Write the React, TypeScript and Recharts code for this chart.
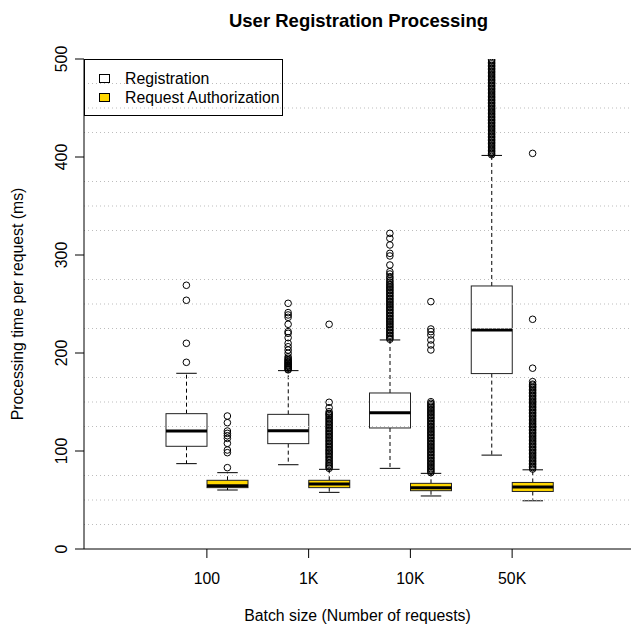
import { Bar, ComposedChart, Label, Legend, ReferenceLine, Scatter, XAxis, YAxis } from 'recharts'

const FONT = '"Liberation Sans", Arial, Helvetica, sans-serif'
const TEXT_SIZE = 15.8

const batches = ['100', '1K', '10K', '50K']

// Registration: box statistics per batch size (ms)
const regLow = [87.1, 86, 82.3, 95.8]
const regQ1 = [104.8, 107.5, 123.5, 179]
const regMedian = [120.4, 120.7, 139.1, 223.5]
const regQ3 = [138.1, 137.4, 159.2, 268.4]
const regHigh = [179.3, 182, 213.3, 401.6]

// Request Authorization: box statistics per batch size (ms)
const authLow = [60.2, 57.8, 54.1, 49.2]
const authQ1 = [62.6, 62.6, 59.5, 58.7]
const authMedian = [64.6, 66.3, 62.6, 63.2]
const authQ3 = [70.1, 70.1, 67, 67.9]
const authHigh = [77.9, 81.3, 77.2, 80.8]

const regOutliers = [
  [190.5, 209.9, 253.8, 269.1],
  [
    182.8, 183.5, 184.6, 185.2, 186.3, 187.1, 187.8, 188.9, 189.5, 190.6, 191.3, 192.4, 193.2,
    194.6, 196.2, 199.7, 203, 206.4, 209.9, 215.6, 220.1, 221.8, 229.3, 236.4, 238.8, 241.2, 250.7,
  ],
  [
    214, 215.3, 217, 218.2, 219.9, 221.1, 222.8, 224, 225.7, 226.9, 228.6, 229.8, 231.5, 232.7,
    234.4, 235.6, 237.3, 238.5, 240.2, 241.4, 243.1, 244.3, 246, 247.2, 248.9, 250.1, 251.8, 253,
    254.7, 255.9, 257.6, 258.8, 260.5, 261.7, 263.4, 264.6, 266.3, 267.5, 269.2, 270.5, 272.4,
    274, 276.1, 277.9, 280.6, 283, 289.8, 299, 301.7, 310.2, 317, 322.1,
  ],
  [
    402.3, 403.6, 405.2, 406.5, 408.1, 409.4, 411, 412.3, 413.9, 415.2, 416.8, 418.1, 419.7, 421,
    422.6, 423.9, 425.5, 426.8, 428.4, 429.7, 431.3, 432.6, 434.2, 435.5, 437.1, 438.4, 440, 441.3,
    442.9, 444.2, 445.8, 447.1, 448.7, 450, 451.6, 452.9, 454.5, 455.8, 457.4, 458.7, 460.3, 461.6,
    463.2, 464.5, 466.1, 467.4, 469, 470.3, 471.9, 473.2, 474.8, 476.1, 477.7, 479, 480.6, 481.9,
    483.5, 484.8, 486.4, 487.7, 489.3, 490.6, 492.2, 493.5, 495.1, 496.4, 498, 499.3,
  ],
]

const authOutliers = [
  [83, 98.3, 101, 107.8, 112.9, 115.6, 118, 120.4, 128.9, 135.7],
  [
    82.3, 83.7, 85.1, 86.6, 88, 89.8, 91.4, 93.1, 94.5, 96.2, 97.6, 99, 100.5, 101.8, 103.4, 104.9,
    106.3, 107.8, 109.4, 110.7, 112.3, 113.8, 115.2, 116.7, 118.2, 119.6, 121.1, 122.7, 124, 125.6,
    127.1, 128.5, 130, 131.6, 132.9, 134.5, 136, 137.4, 138.4, 140.1, 144.2, 149.7, 229.3,
  ],
  [
    77.9, 79.3, 80.7, 82, 83.6, 84.9, 86.5, 87.8, 89.4, 90.7, 92.3, 93.6, 95.2, 96.5, 98.1, 99.4,
    101, 102.3, 103.9, 105.2, 106.8, 108.1, 109.7, 111, 112.6, 113.9, 115.5, 116.8, 118.4, 119.7,
    121.3, 122.6, 124.2, 125.5, 127.1, 128.4, 130, 131.3, 132.9, 134.2, 135.8, 137.1, 138.7, 140,
    141.6, 142.9, 144.5, 145.8, 147.3, 148.7, 150.3, 203.1, 208.2, 213.3, 218.4, 221.8, 224.5,
    252.4,
  ],
  [
    81.6, 83.1, 84.4, 86, 87.3, 88.9, 90.2, 91.8, 93.1, 94.7, 96, 97.6, 98.9, 100.5, 101.8, 103.4,
    104.7, 106.3, 107.6, 109.2, 110.5, 112.1, 113.4, 115, 116.3, 117.9, 119.2, 120.8, 122.1, 123.7,
    125, 126.6, 127.9, 129.5, 130.8, 132.4, 133.7, 135.3, 136.6, 138.2, 139.5, 141.1, 142.4, 144,
    145.3, 146.9, 148.2, 149.8, 151.1, 152.7, 154, 155.6, 156.9, 158.5, 159.8, 161.4, 162.7,
    164.3, 165.6, 167.2, 168.2, 170.8, 184.5, 234.4, 403.7,
  ],
]

const yTicks = [0, 100, 200, 300, 400, 500]
const gridValues = [25, 50, 75, 125, 150, 175, 225, 250, 275, 325, 350, 375, 425, 450, 475]

const legendItems = [
  { label: 'Registration', fill: '#ffffff' },
  { label: 'Request Authorization', fill: '#ffd700' },
]

const chartData = batches.map((batch, i) => ({
  batch,
  regBox: [regQ1[i], regQ3[i]],
  regLow: regLow[i],
  regMedian: regMedian[i],
  regHigh: regHigh[i],
  authBox: [authQ1[i], authQ3[i]],
  authLow: authLow[i],
  authMedian: authMedian[i],
  authHigh: authHigh[i],
}))

const toPoints = (lists: number[][]) =>
  batches.flatMap((batch, i) => lists[i].map((value) => ({ batch, value })))

const regPoints = toPoints(regOutliers)
const authPoints = toPoints(authOutliers)

// the bar covers q1..q3, the rest of the box is placed on the same linear scale
const makeBoxShape = (key: 'reg' | 'auth', fill: string) => (props: any) => {
  const { x, y, width, height, payload } = props
  const box = payload?.[`${key}Box`]
  if (!box) return <g />
  const [q1, q3] = box
  const top = Math.min(y, y + height)
  const bottom = Math.max(y, y + height)
  const toPx = (v: number) => bottom - ((v - q1) / (q3 - q1)) * (bottom - top)
  const cx = x + width / 2
  const cap = width / 4
  const hi = toPx(payload[`${key}High`])
  const lo = toPx(payload[`${key}Low`])
  const med = toPx(payload[`${key}Median`])

  return (
    <g>
      <line x1={cx} x2={cx} y1={top} y2={hi} stroke="#000" strokeDasharray="4 3" />
      <line x1={cx} x2={cx} y1={bottom} y2={lo} stroke="#000" strokeDasharray="4 3" />
      <line x1={cx - cap} x2={cx + cap} y1={hi} y2={hi} stroke="#000" />
      <line x1={cx - cap} x2={cx + cap} y1={lo} y2={lo} stroke="#000" />
      <rect x={x} y={top} width={width} height={bottom - top} fill={fill} stroke="#222" />
      <line x1={x} x2={x + width} y1={med} y2={med} stroke="#000" strokeWidth={3} />
    </g>
  )
}

const OutlierDot = (props: any) => (
  <circle cx={props.cx} cy={props.cy} r={3.3} fill="none" stroke="#000" strokeWidth={1} />
)

const XTick = ({ x, y, payload }: any) => (
  <text x={x} y={y + 24} textAnchor="middle" fontFamily={FONT} fontSize={TEXT_SIZE} fill="#000">
    {payload.value}
  </text>
)

const YTick = ({ x, y, payload }: any) => (
  <text
    x={x - 6}
    y={y}
    transform={`rotate(-90, ${x - 6}, ${y})`}
    textAnchor="middle"
    fontFamily={FONT}
    fontSize={TEXT_SIZE}
    fill="#000"
  >
    {payload.value}
  </text>
)

const renderLegend = () => (
  <div
    style={{
      position: 'relative',
      width: 199,
      height: 57,
      border: '1px solid #000',
      boxSizing: 'border-box',
      fontFamily: FONT,
      fontSize: TEXT_SIZE,
      color: '#000',
    }}
  >
    {legendItems.map((item, i) => (
      <div
        key={item.label}
        style={{
          position: 'absolute',
          left: 14,
          top: 9 + i * 19,
          height: 19,
          display: 'flex',
          alignItems: 'center',
          whiteSpace: 'nowrap',
        }}
      >
        <span
          style={{
            width: 11,
            height: 9,
            border: '1px solid #000',
            background: item.fill,
            boxSizing: 'border-box',
          }}
        />
        <span style={{ marginLeft: 15, lineHeight: '19px' }}>{item.label}</span>
      </div>
    ))}
  </div>
)

export default function App() {
  return (
    <div style={{ width: 631, height: 629, fontFamily: FONT, background: '#fff' }}>
      <style>{'body { margin: 0; }'}</style>
      <ComposedChart
        width={631}
        height={629}
        data={chartData}
        margin={{ top: 59, right: 0, bottom: 0, left: 0 }}
        barGap={0}
      >
        <XAxis
          xAxisId="cat"
          dataKey="batch"
          type="category"
          allowDuplicatedCategory={false}
          padding={{ left: 72, right: 68 }}
          height={80}
          tickSize={9}
          tickLine={{ stroke: '#000' }}
          axisLine={{ stroke: '#000' }}
          tick={<XTick />}
          interval={0}
        >
          <Label
            content={({ viewBox }: any) => (
              <text
                x={viewBox.x + viewBox.width / 2}
                y={viewBox.y + 71.5}
                textAnchor="middle"
                fontFamily={FONT}
                fontSize={TEXT_SIZE}
                fill="#000"
              >
                Batch size (Number of requests)
              </text>
            )}
          />
        </XAxis>
        <XAxis
          xAxisId="reg"
          dataKey="batch"
          type="category"
          allowDuplicatedCategory={false}
          padding={{ left: 51.5, right: 88.5 }}
          height={0}
          hide
        />
        <XAxis
          xAxisId="auth"
          dataKey="batch"
          type="category"
          allowDuplicatedCategory={false}
          padding={{ left: 92.5, right: 47.5 }}
          height={0}
          hide
        />
        <YAxis
          type="number"
          domain={[0, 500]}
          ticks={yTicks}
          interval={0}
          allowDataOverflow
          width={84}
          tickSize={9}
          tickLine={{ stroke: '#000' }}
          axisLine={{ stroke: '#000' }}
          tick={<YTick />}
        >
          <Label
            content={({ viewBox }: any) => {
              const lx = viewBox.x + 23
              const ly = viewBox.y + viewBox.height / 2
              return (
                <text
                  x={lx}
                  y={ly}
                  transform={`rotate(-90, ${lx}, ${ly})`}
                  textAnchor="middle"
                  fontFamily={FONT}
                  fontSize={TEXT_SIZE}
                  fill="#000"
                >
                  Processing time per request (ms)
                </text>
              )
            }}
          />
        </YAxis>

        {gridValues.map((v) => (
          <ReferenceLine
            key={v}
            xAxisId="cat"
            y={v}
            stroke="#bdbdbd"
            strokeDasharray="1 3"
            strokeWidth={1}
          />
        ))}

        <Bar
          xAxisId="cat"
          dataKey="regBox"
          name="Registration"
          barSize={41}
          shape={makeBoxShape('reg', '#ffffff')}
          isAnimationActive={false}
        />
        <Bar
          xAxisId="cat"
          dataKey="authBox"
          name="Request Authorization"
          barSize={41}
          shape={makeBoxShape('auth', '#ffd700')}
          isAnimationActive={false}
        />
        <Scatter
          xAxisId="reg"
          data={regPoints}
          dataKey="value"
          shape={OutlierDot}
          isAnimationActive={false}
        />
        <Scatter
          xAxisId="auth"
          data={authPoints}
          dataKey="value"
          shape={OutlierDot}
          isAnimationActive={false}
        />

        <Legend
          layout="vertical"
          align="center"
          verticalAlign="middle"
          wrapperStyle={{ top: 59, left: 84, width: 199, height: 57 }}
          content={renderLegend}
        />

        <text
          x={358.5}
          y={26.5}
          textAnchor="middle"
          fontFamily={FONT}
          fontSize={18.5}
          fontWeight="bold"
          fill="#000"
        >
          User Registration Processing
        </text>
      </ComposedChart>
    </div>
  )
}
